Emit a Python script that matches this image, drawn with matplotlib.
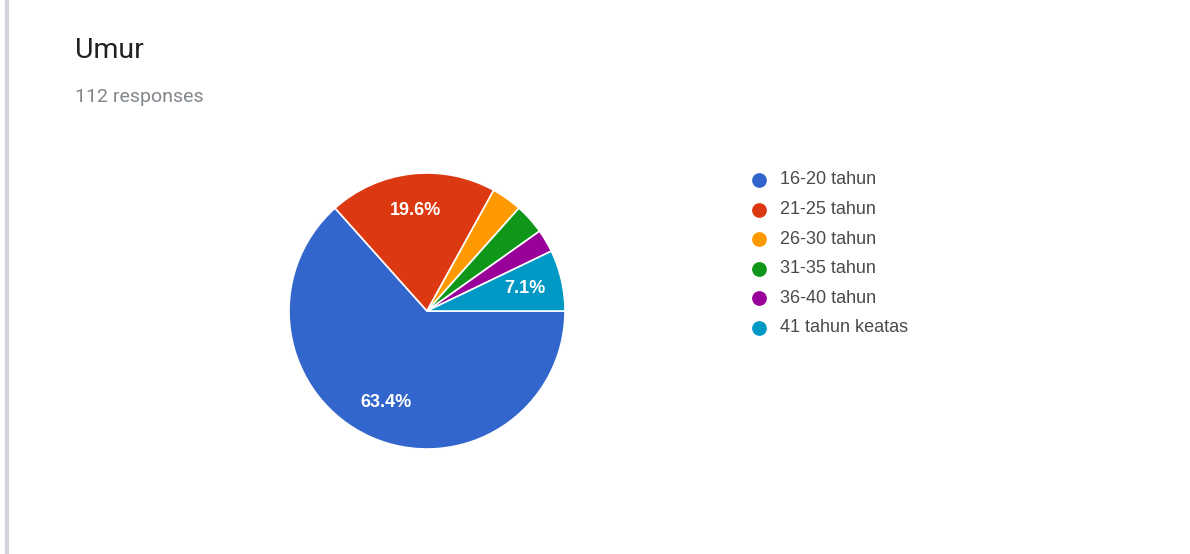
import matplotlib
matplotlib.use("Agg")
import matplotlib.pyplot as plt
from matplotlib.lines import Line2D

categories = ["16-20 tahun", "21-25 tahun", "26-30 tahun", "31-35 tahun", "36-40 tahun", "41 tahun keatas"]
counts = [71, 22, 4, 4, 3, 8]
colors = ["#3366cc", "#dc3912", "#ff9900", "#109618", "#990099", "#0099c6"]
title = "Umur"
subtitle = "112 responses"

W, H = 1190, 554
fig = plt.figure(figsize=(W / 100, H / 100), dpi=100)
fig.patch.set_facecolor("white")

# left border bar
fig.add_artist(Line2D([7 / W, 7 / W], [0.0, 1.0], color="#d3d3de", lw=3, transform=fig.transFigure))

fig.text(75 / W, 1 - 50 / H, title, fontsize=20.5, color="#202124", family="Roboto", va="center", ha="left")
fig.text(75 / W, 1 - 97 / H, subtitle, fontsize=14, color="#80868b", family="Roboto", va="center", ha="left")

cx, cy, r = 427, 311, 138
ax = fig.add_axes([(cx - r) / W, 1 - (cy + r) / H, 2 * r / W, 2 * r / H])


def fmt(p):
    return f"{p:.1f}%" if p > 5 else ""


wedges, texts, autotexts = ax.pie(
    counts, colors=colors, startangle=0, counterclock=False,
    autopct=fmt, pctdistance=0.73,
    wedgeprops=dict(edgecolor="white", linewidth=1.2),
    textprops=dict(color="white", fontsize=13, fontweight="bold", family="Liberation Sans"),
)
ax.set_xlim(-1, 1)
ax.set_ylim(-1, 1)
ax.set_aspect("equal")
ax.axis("off")

# legend
lx, ly0, dy = 759, 180, 29.6
for i, (lab, col) in enumerate(zip(categories, colors)):
    y = 1 - (ly0 + i * dy) / H
    fig.add_artist(Line2D([lx / W], [y], marker="o", markersize=9.6, color=col, lw=0, transform=fig.transFigure))
    fig.text((lx + 21) / W, y, lab, fontsize=13, color="#4a4a4a", family="Liberation Sans", va="center", ha="left")

fig.savefig("out.png", dpi=100, facecolor="white")
